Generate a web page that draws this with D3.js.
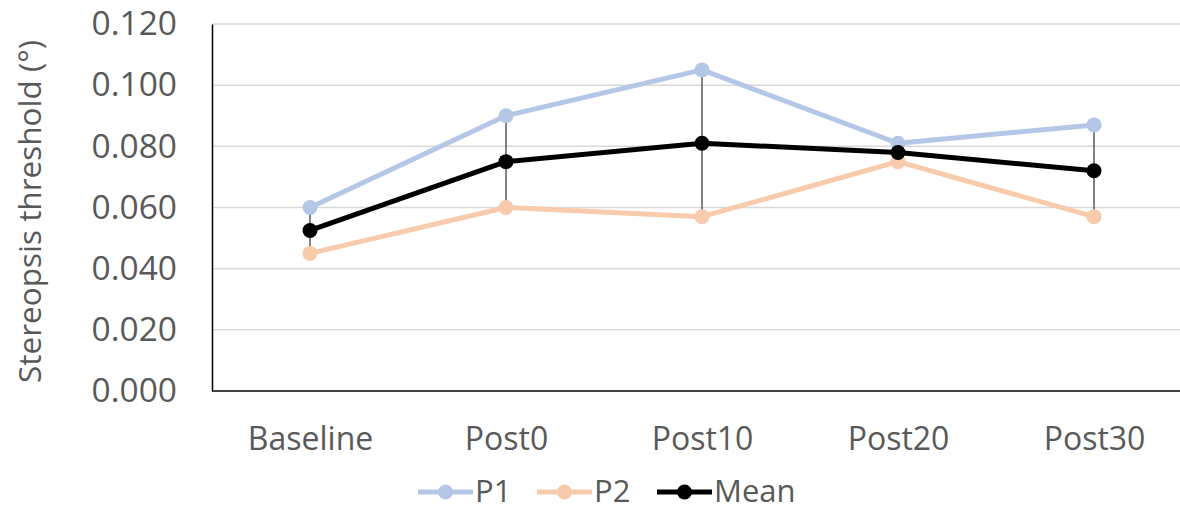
<!DOCTYPE html>
<html>
<head>
<meta charset="utf-8">
<script src="https://cdn.jsdelivr.net/npm/d3@7"></script>
<style>
  html, body { margin: 0; padding: 0; background: #fff; }
  svg { display: block; }
  text { font-family: "Open Sans", "Liberation Sans", sans-serif; fill: #595959; }
</style>
</head>
<body>
<svg id="chart" width="1180" height="510"></svg>
<script>
// Sessions along the x axis
const categories = ["Baseline", "Post0", "Post10", "Post20", "Post30"];
// Stereopsis thresholds (degrees) per participant
const p1Values = [0.060, 0.090, 0.105, 0.081, 0.087];
const p2Values = [0.045, 0.060, 0.057, 0.075, 0.057];
// Mean of the two participants
const meanValues = [0.0525, 0.075, 0.081, 0.078, 0.072];
// Error bar half-lengths around the mean
const meanError = [0.0075, 0.015, 0.024, 0.003, 0.015];
const yTicks = [0, 0.02, 0.04, 0.06, 0.08, 0.10, 0.12];
const yTitle = "Stereopsis threshold (°)";

const series = [
  { name: "P1", values: p1Values, color: "#b4c7e7" },
  { name: "P2", values: p2Values, color: "#f8cbad" },
  { name: "Mean", values: meanValues, color: "#000000" }
];

const svg = d3.select("#chart");
const plot = { left: 212, right: 1192, top: 24, bottom: 391 };

const x = d3.scalePoint().domain(categories).range([plot.left, plot.right]).padding(0.5);
const y = d3.scaleLinear().domain([0, 0.12]).range([plot.bottom, plot.top]);

// Horizontal gridlines
svg.append("g").selectAll("line").data(yTicks.slice(1)).join("line")
  .attr("x1", plot.left).attr("x2", plot.right)
  .attr("y1", d => y(d)).attr("y2", d => y(d))
  .attr("stroke", "#d9d9d9").attr("stroke-width", 1.5);

// Y axis with tick labels
const yAxis = svg.append("g").attr("transform", `translate(${plot.left},0)`)
  .call(d3.axisLeft(y).tickValues(yTicks).tickFormat(d3.format(".3f")).tickSize(0).tickPadding(35));
yAxis.select(".domain").attr("stroke", "#000").attr("stroke-width", 1.5);
yAxis.selectAll("text").attr("font-size", 33.5).attr("fill", "#595959")
  .style("font-family", "'Open Sans', sans-serif");

// X axis with category labels
const xAxis = svg.append("g").attr("transform", `translate(0,${plot.bottom})`)
  .call(d3.axisBottom(x).tickSize(0).tickPadding(36));
xAxis.select(".domain").attr("d", `M${plot.left},0H${plot.right}`).attr("stroke", "#000").attr("stroke-width", 1.5);
xAxis.selectAll("text").attr("font-size", 32).attr("fill", "#595959")
  .style("font-family", "'Open Sans', sans-serif");

// Y axis title
svg.append("text")
  .attr("transform", `translate(41,${(plot.top + plot.bottom) / 2 + 4}) rotate(-90)`)
  .attr("text-anchor", "middle")
  .attr("font-size", 31.5)
  .text(yTitle);

// Error bars on the mean
svg.append("g").selectAll("line").data(categories).join("line")
  .attr("x1", d => x(d)).attr("x2", d => x(d))
  .attr("y1", (d, i) => y(meanValues[i] - meanError[i]))
  .attr("y2", (d, i) => y(meanValues[i] + meanError[i]))
  .attr("stroke", "#595959").attr("stroke-width", 1.5);

// Lines and markers for each series
const line = d3.line().x((d, i) => x(categories[i])).y(d => y(d));
series.forEach(s => {
  const g = svg.append("g");
  g.append("path").datum(s.values).attr("d", line)
    .attr("fill", "none").attr("stroke", s.color).attr("stroke-width", 5)
    .attr("stroke-linejoin", "round");
  g.selectAll("circle").data(s.values).join("circle")
    .attr("cx", (d, i) => x(categories[i])).attr("cy", d => y(d))
    .attr("r", 7.5).attr("fill", s.color);
});

// Legend
const legendX = [418, 537, 657];
const legendY = 492;
const legend = svg.append("g");
series.forEach((s, i) => {
  const g = legend.append("g").attr("transform", `translate(${legendX[i]},${legendY})`);
  g.append("line").attr("x1", 0).attr("x2", 55).attr("y1", 0).attr("y2", 0)
    .attr("stroke", s.color).attr("stroke-width", 5);
  g.append("circle").attr("cx", 27.5).attr("cy", 0).attr("r", 7.5).attr("fill", s.color);
  g.append("text").attr("x", 57).attr("y", 10).attr("font-size", 31).text(s.name);
});
</script>
</body>
</html>
